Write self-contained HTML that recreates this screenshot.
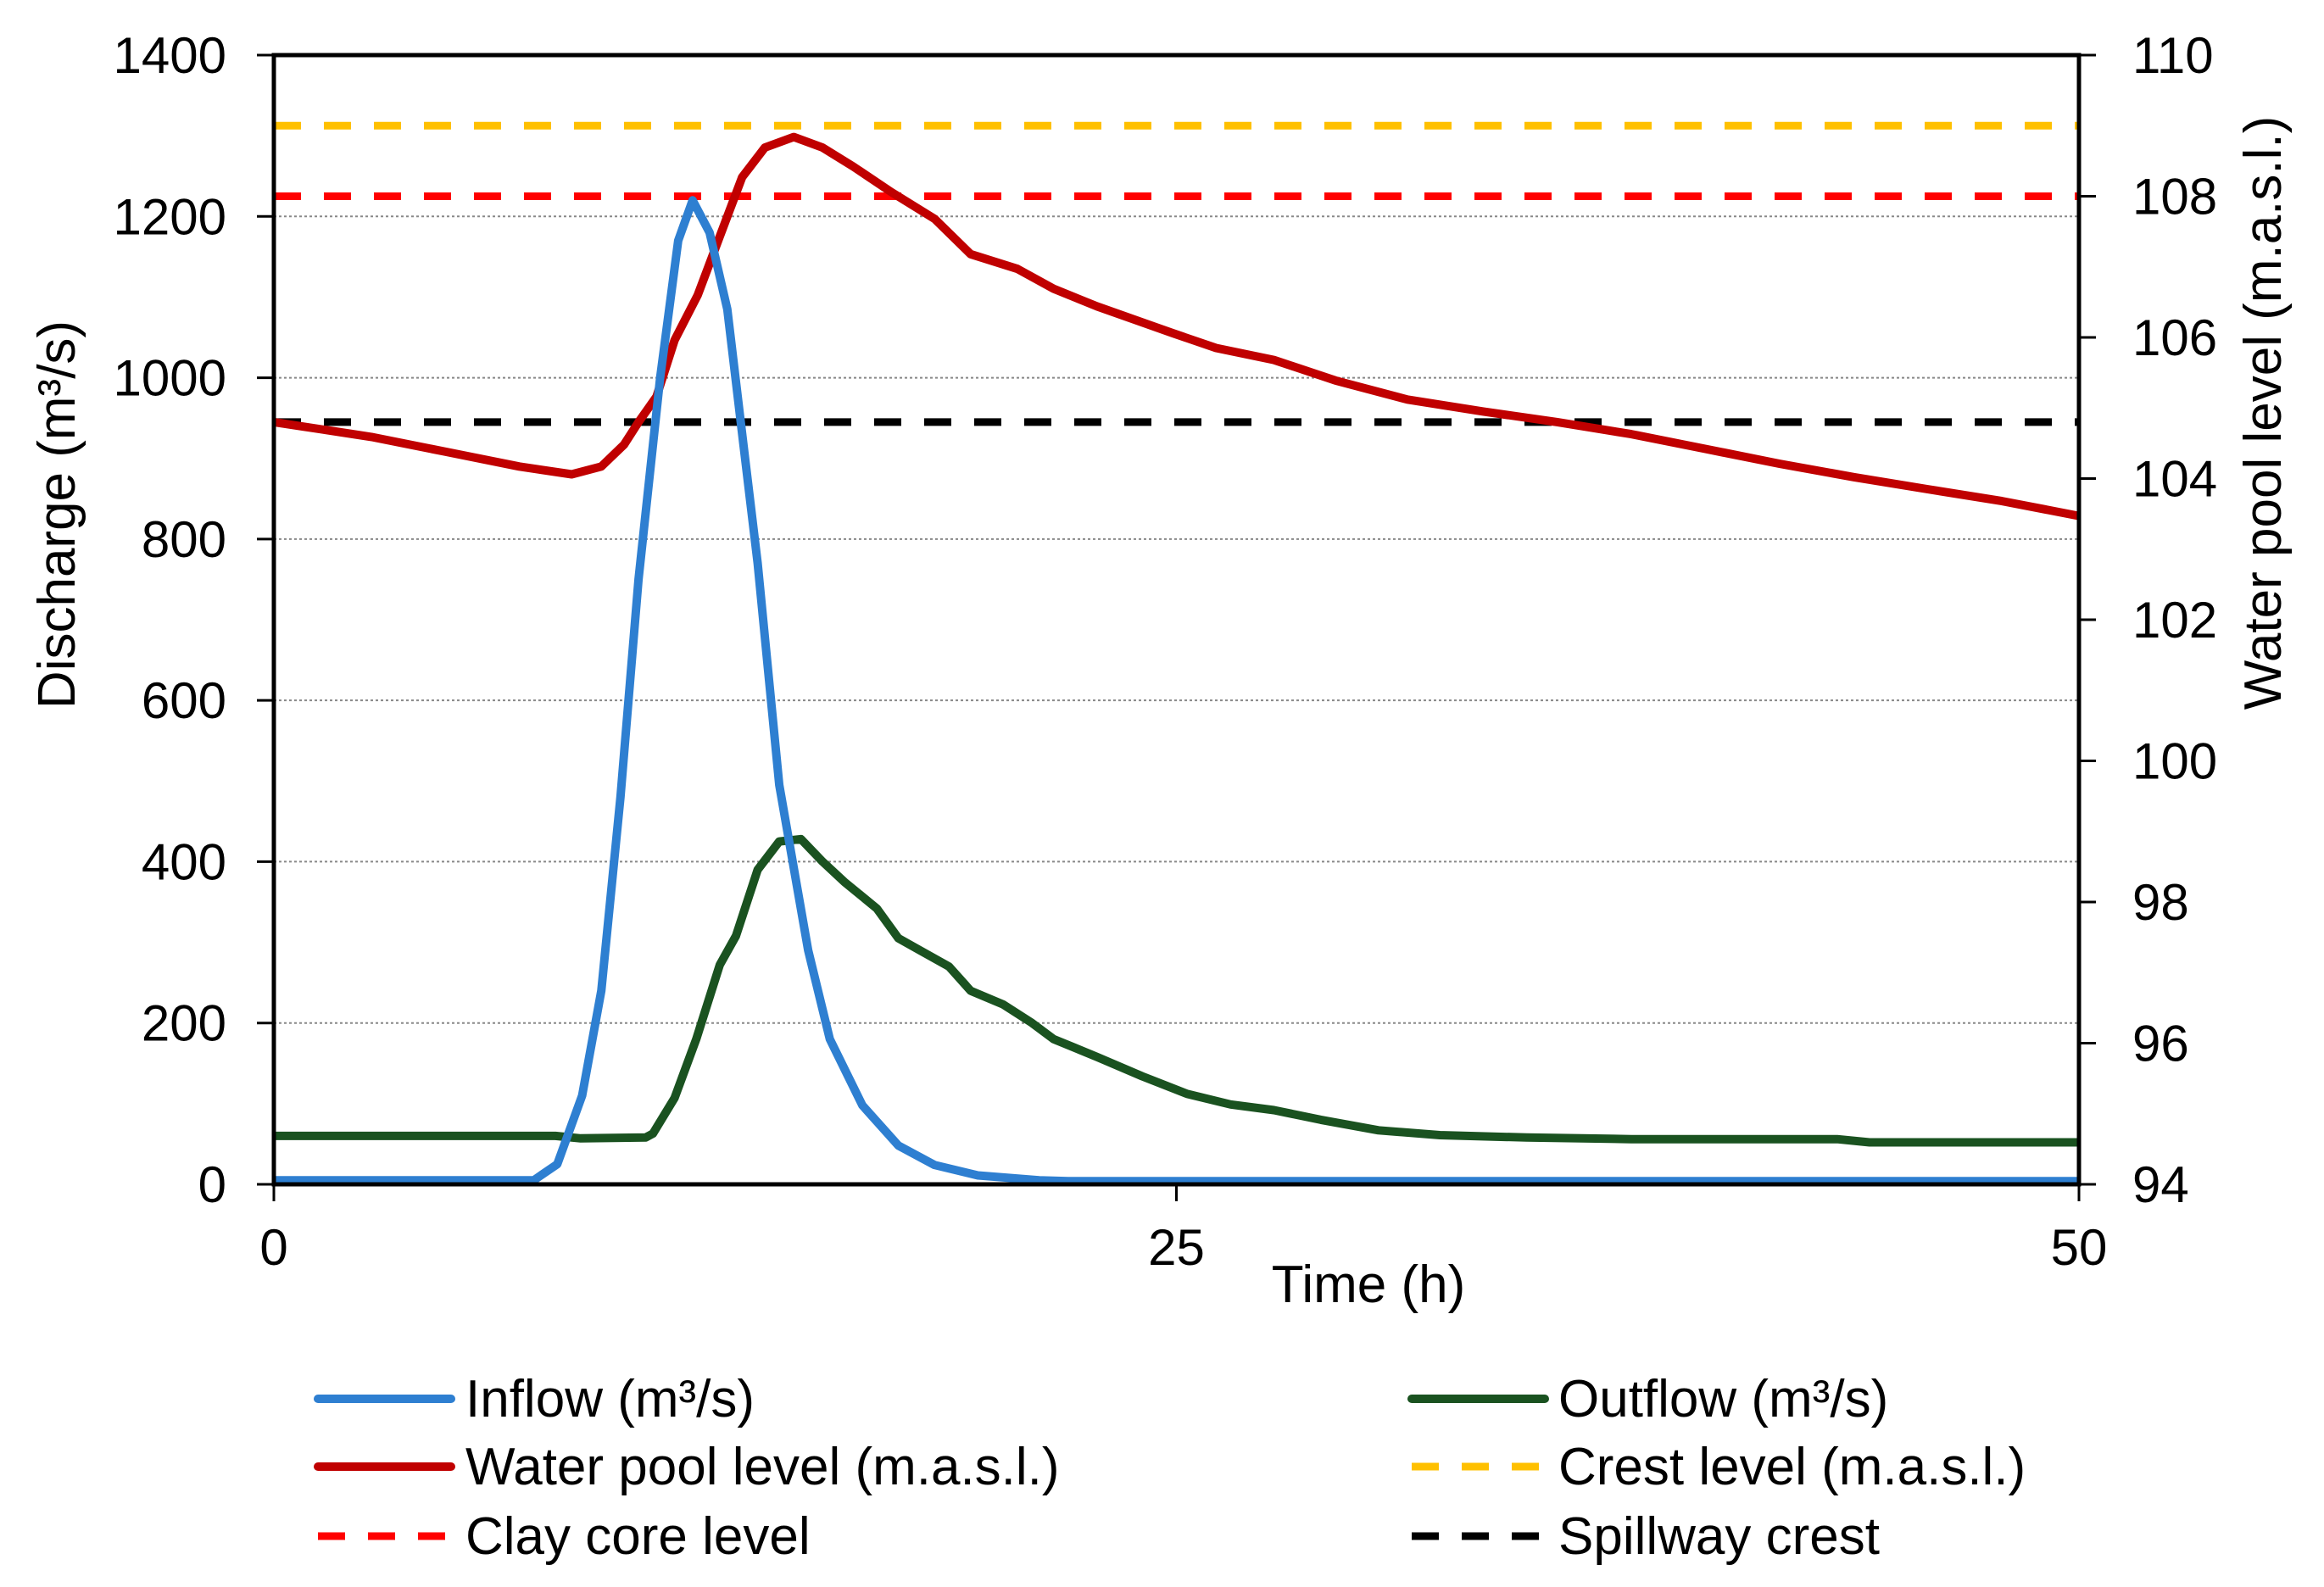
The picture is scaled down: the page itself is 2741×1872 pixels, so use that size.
<!DOCTYPE html>
<html><head><meta charset="utf-8"><style>
html,body{margin:0;padding:0;background:#fff;}
svg{display:block;font-family:"Liberation Sans",sans-serif;}
</style></head><body>
<svg id="chart" width="2741" height="1872" viewBox="0 0 2741 1872" xmlns="http://www.w3.org/2000/svg">
<rect width="2741" height="1872" fill="#fff"/>
<g id="grid"></g>
<g id="refs"></g>
<g id="series"></g>
<g id="axes"></g>
<text transform="translate(88,607) rotate(-90)" text-anchor="middle" font-size="62">Discharge (m³/s)</text>
<text transform="translate(2690,487) rotate(-90)" text-anchor="middle" font-size="62">Water pool level (m.a.s.l.)</text>
<text x="1614" y="1536" text-anchor="middle" font-size="62">Time (h)</text>
<g font-size="62">
  <g><line x1="375" y1="1650" x2="532" y2="1650" stroke="#2e7fd1" stroke-width="10" stroke-linecap="round"/><text x="549" y="1671">Inflow (m³/s)</text></g>
  <g><line x1="375" y1="1730" x2="532" y2="1730" stroke="#c00000" stroke-width="10" stroke-linecap="round"/><text x="549" y="1751">Water pool level (m.a.s.l.)</text></g>
  <g><line x1="375" y1="1812" x2="532" y2="1812" stroke="#ff0000" stroke-width="9" stroke-dasharray="32,27"/><text x="549" y="1833">Clay core level</text></g>
  <g><line x1="1665" y1="1650" x2="1822" y2="1650" stroke="#1a5220" stroke-width="10" stroke-linecap="round"/><text x="1838" y="1671">Outflow (m³/s)</text></g>
  <g><line x1="1665" y1="1730" x2="1822" y2="1730" stroke="#ffc000" stroke-width="9" stroke-dasharray="32,27"/><text x="1838" y="1751">Crest level (m.a.s.l.)</text></g>
  <g><line x1="1665" y1="1812" x2="1822" y2="1812" stroke="#000" stroke-width="9" stroke-dasharray="32,27"/><text x="1838" y="1833">Spillway crest</text></g>
</g>
</svg>
<script>
const inflowT = [0,7.2,7.85,8.54,9.07,9.6,10.1,10.7,11.2,11.6,12.07,12.56,13.0,13.4,14.0,14.8,15.4,16.3,17.3,18.3,19.5,21.2,22,50];
const inflowV = [5,5,25,110,240,480,750,1000,1170,1220,1180,1085,920,770,495,290,180,98,48,24,11,5,4,4];
const outflowT = [0,7.8,8.5,10.3,10.5,11.1,11.7,12.35,12.8,13.4,14.0,14.6,15.2,15.8,16.7,17.3,17.9,18.7,19.3,20.2,21.0,21.6,22.8,24.05,25.3,26.5,27.7,29.0,30.6,32.3,34.7,37.6,43.3,44.2,50];
const outflowV = [60,60,57,58,63,107,180,272,308,390,425,428,400,375,342,305,290,270,240,223,200,180,158,134,112,99,92,80,67,61,58,56,56,52,52];
const levelT = [0,2.7,4.76,6.8,8.25,9.07,9.7,10.1,10.6,11.1,11.74,12.35,12.97,13.6,14.4,15.2,16.05,17.1,18.3,19.3,20.6,21.6,22.8,24.9,26.1,27.7,29.4,31.4,33.5,35.55,37.6,39.65,41.7,43.76,45.8,47.87,50];
const levelV = [104.8,104.59,104.38,104.17,104.06,104.17,104.48,104.8,105.16,105.96,106.6,107.43,108.27,108.69,108.84,108.69,108.42,108.06,107.68,107.18,106.97,106.69,106.44,106.06,105.85,105.68,105.39,105.12,104.95,104.8,104.63,104.42,104.21,104.02,103.85,103.68,103.47];
const refLevels = [109, 108, 104.8];
const refColors = ["#ffc000","#ff0000","#000000"];
const refNames = ["crest-level-line","clay-core-line","spillway-crest-line"];
const yTicks = [0,200,400,600,800,1000,1200,1400];
const y2Ticks = [94,96,98,100,102,104,106,108,110];
const xTicks = [0,25,50];

const L=323,R=2452,T=65,B=1397;
const NS="http://www.w3.org/2000/svg";
const xs=t=>L+(t-0)/(50-0)*(R-L);
const ys=v=>B-(v-0)/(1400-0)*(B-T);
const y2s=v=>B-(v-94)/(110-94)*(B-T);
function mk(tag,attrs,parent){const e=document.createElementNS(NS,tag);for(const k in attrs)e.setAttribute(k,attrs[k]);parent.appendChild(e);return e;}
const grid=document.getElementById('grid'),refs=document.getElementById('refs'),series=document.getElementById('series'),axes=document.getElementById('axes');

yTicks.forEach(v=>{
  if(v>0&&v<1400){const g=mk('line',{x1:L,x2:R,y1:ys(v),y2:ys(v),stroke:'#888','stroke-width':2,'stroke-dasharray':'3,3'},grid);
  
  }
  const tk=mk('line',{x1:L-20,x2:L,y1:ys(v),y2:ys(v),stroke:'#000','stroke-width':3},axes);
  
  
  const tx=mk('text',{x:267,y:ys(v)+21,'text-anchor':'end','font-size':60},axes);tx.textContent=v;
  
  
});
y2Ticks.forEach(v=>{
  const tk=mk('line',{x1:R,x2:R+20,y1:y2s(v),y2:y2s(v),stroke:'#000','stroke-width':3},axes);
  
  
  const tx=mk('text',{x:2515,y:y2s(v)+21,'text-anchor':'start','font-size':60},axes);tx.textContent=v;
  
  
});
xTicks.forEach(v=>{
  const tk=mk('line',{x1:xs(v),x2:xs(v),y1:B,y2:B+20,stroke:'#000','stroke-width':3},axes);
  
  
  const tx=mk('text',{x:xs(v),y:1492,'text-anchor':'middle','font-size':60},axes);tx.textContent=v;
  
  
});
refLevels.forEach((v,i)=>{
  const l=mk('line',{x1:L,x2:R,y1:y2s(v),y2:y2s(v),stroke:refColors[i],'stroke-width':9,'stroke-dasharray':'32,27'},refs);
  
  
});
function path(T_,V_,sc,color,name){
  const d=T_.map((t,i)=>(i?'L':'M')+xs(t).toFixed(1)+','+sc(V_[i]).toFixed(1)).join('');
  const p=mk('path',{d:d,fill:'none',stroke:color,'stroke-width':10,'stroke-linejoin':'round'},series);
  
  
}
path(levelT,levelV,y2s,'#c00000','water-level-line');
path(outflowT,outflowV,ys,'#1a5220','outflow-line');
path(inflowT,inflowV,ys,'#2e7fd1','inflow-line');
const frame=mk('rect',{x:L,y:T,width:R-L,height:B-T,fill:'none',stroke:'#000','stroke-width':5},axes);


</script>
</body></html>
